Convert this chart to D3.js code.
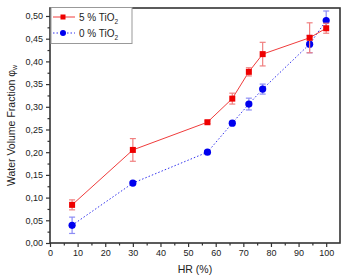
<!DOCTYPE html>
<html><head><meta charset="utf-8">
<script src="https://cdn.jsdelivr.net/npm/d3@7"></script>
<style>body{margin:0;background:#fff}svg{display:block}text{font-family:"Liberation Sans",Arial,sans-serif}</style>
</head><body><svg id="c" width="348" height="280"></svg>
<script>
const hr = [8, 30, 57, 66, 72, 77, 94, 100];
const tio5 = [0.084, 0.205, 0.266, 0.318, 0.377, 0.416, 0.452, 0.473];
const tio5Err = [0.011, 0.025, 0.003, 0.012, 0.009, 0.026, 0.033, 0.011];
const tio0 = [0.039, 0.132, 0.200, 0.264, 0.306, 0.339, 0.438, 0.490];
const tio0Err = [0.018, 0.004, 0.002, 0.004, 0.013, 0.011, 0.019, 0.021];
const xTicks = [0,10,20,30,40,50,60,70,80,90,100];
const yTicks = [0,0.05,0.10,0.15,0.20,0.25,0.30,0.35,0.40,0.45,0.50];
const legendLabels = ["5 % TiO", "0 % TiO"];

const svg = d3.select("#c");
const L=50, R=340, T=8, B=243;
const x = d3.scaleLinear().domain([0,105]).range([L,R]);
const y = d3.scaleLinear().domain([0,0.5176]).range([B,T]);
const fmt = d => d3.format(".2f")(d).replace(".", ",");

// frame
svg.append("rect").attr("x",L).attr("y",T).attr("width",R-L).attr("height",B-T)
  .attr("fill","none").attr("stroke","#333").attr("stroke-width",1.6);

// x axis
const xa = svg.append("g").attr("transform",`translate(0,${B})`)
  .call(d3.axisBottom(x).tickValues(xTicks).tickSize(4).tickPadding(3).tickFormat(d3.format("d")));
xa.select(".domain").remove();
xa.selectAll("line").attr("stroke","#333").attr("stroke-width",1.2);
xa.selectAll("text").attr("font-size",9).attr("fill","#222");
svg.append("g").attr("transform",`translate(0,${B})`)
  .call(d3.axisBottom(x).tickValues(d3.range(5,105,10)).tickSize(2.5).tickFormat(""))
  .call(g=>{g.select(".domain").remove();g.selectAll("line").attr("stroke","#333").attr("stroke-width",1.2);});

// y axis
const ya = svg.append("g").attr("transform",`translate(${L},0)`)
  .call(d3.axisLeft(y).tickValues(yTicks).tickSize(4).tickPadding(3).tickFormat(fmt));
ya.select(".domain").remove();
ya.selectAll("line").attr("stroke","#333").attr("stroke-width",1.2);
ya.selectAll("text").attr("font-size",9).attr("fill","#222");
svg.append("g").attr("transform",`translate(${L},0)`)
  .call(d3.axisLeft(y).tickValues(d3.range(0.025,0.5,0.05)).tickSize(2.5).tickFormat(""))
  .call(g=>{g.select(".domain").remove();g.selectAll("line").attr("stroke","#333").attr("stroke-width",1.2);});

// axis labels
svg.append("text").attr("x",(L+R)/2).attr("y",273).attr("text-anchor","middle")
  .attr("font-size",10.5).attr("fill","#222").text("HR (%)");
const yl = svg.append("text").attr("transform",`translate(15,${(T+B)/2}) rotate(-90)`)
  .attr("text-anchor","middle").attr("font-size",10.5).attr("fill","#222");
yl.append("tspan").text("Water Volume Fraction φ");
yl.append("tspan").attr("font-size",7).attr("dy",2).text("w");

function series(vals, errs, lineCol, errCol, markCol, dash, shape){
  const pts = hr.map((h,i)=>({h, v:vals[i], e:errs[i]}));
  svg.append("path").datum(pts).attr("fill","none").attr("stroke",lineCol).attr("stroke-width",1)
    .attr("stroke-dasharray",dash).attr("d",d3.line().x(d=>x(d.h)).y(d=>y(d.v)));
  const eg = svg.append("g").attr("stroke",errCol).attr("stroke-width",1.2);
  pts.forEach(d=>{
    eg.append("line").attr("x1",x(d.h)).attr("x2",x(d.h)).attr("y1",y(d.v-d.e)).attr("y2",y(d.v+d.e));
    [d.v-d.e,d.v+d.e].forEach(v=>eg.append("line").attr("x1",x(d.h)-3).attr("x2",x(d.h)+3).attr("y1",y(v)).attr("y2",y(v)));
  });
  const mg = svg.append("g").attr("fill",markCol);
  pts.forEach(d=>{
    if(shape==="sq") mg.append("rect").attr("x",x(d.h)-3).attr("y",y(d.v)-3).attr("width",6).attr("height",6);
    else mg.append("circle").attr("cx",x(d.h)).attr("cy",y(d.v)).attr("r",3.6);
  });
}
series(tio0, tio0Err, "#3333ee", "#8c8cf5", "#0000ee", "1.5,2", "ci");
series(tio5, tio5Err, "#f03c3c", "#f08080", "#ee0000", null, "sq");

// legend
const lg = svg.append("g");
lg.append("rect").attr("x",51).attr("y",7.5).attr("width",81).attr("height",36)
  .attr("fill","#fff").attr("stroke","#999").attr("stroke-width",1);
const rows = [{c:"#f03c3c",m:"#ee0000",d:null,s:"sq",yy:17},{c:"#3333ee",m:"#0000ee",d:"1.5,2",s:"ci",yy:33}];
rows.forEach((r,i)=>{
  lg.append("line").attr("x1",53).attr("x2",75).attr("y1",r.yy).attr("y2",r.yy)
    .attr("stroke",r.c).attr("stroke-width",1).attr("stroke-dasharray",r.d);
  if(r.s==="sq") lg.append("rect").attr("x",60.5).attr("y",r.yy-2.5).attr("width",5).attr("height",5).attr("fill",r.m);
  else lg.append("circle").attr("cx",63).attr("cy",r.yy).attr("r",3).attr("fill",r.m);
  const t = lg.append("text").attr("x",79).attr("y",r.yy+3.5).attr("font-size",10).attr("fill","#222");
  t.append("tspan").text(legendLabels[i]);
  t.append("tspan").attr("font-size",6.5).attr("dy",3).text("2");
});
</script></body></html>
